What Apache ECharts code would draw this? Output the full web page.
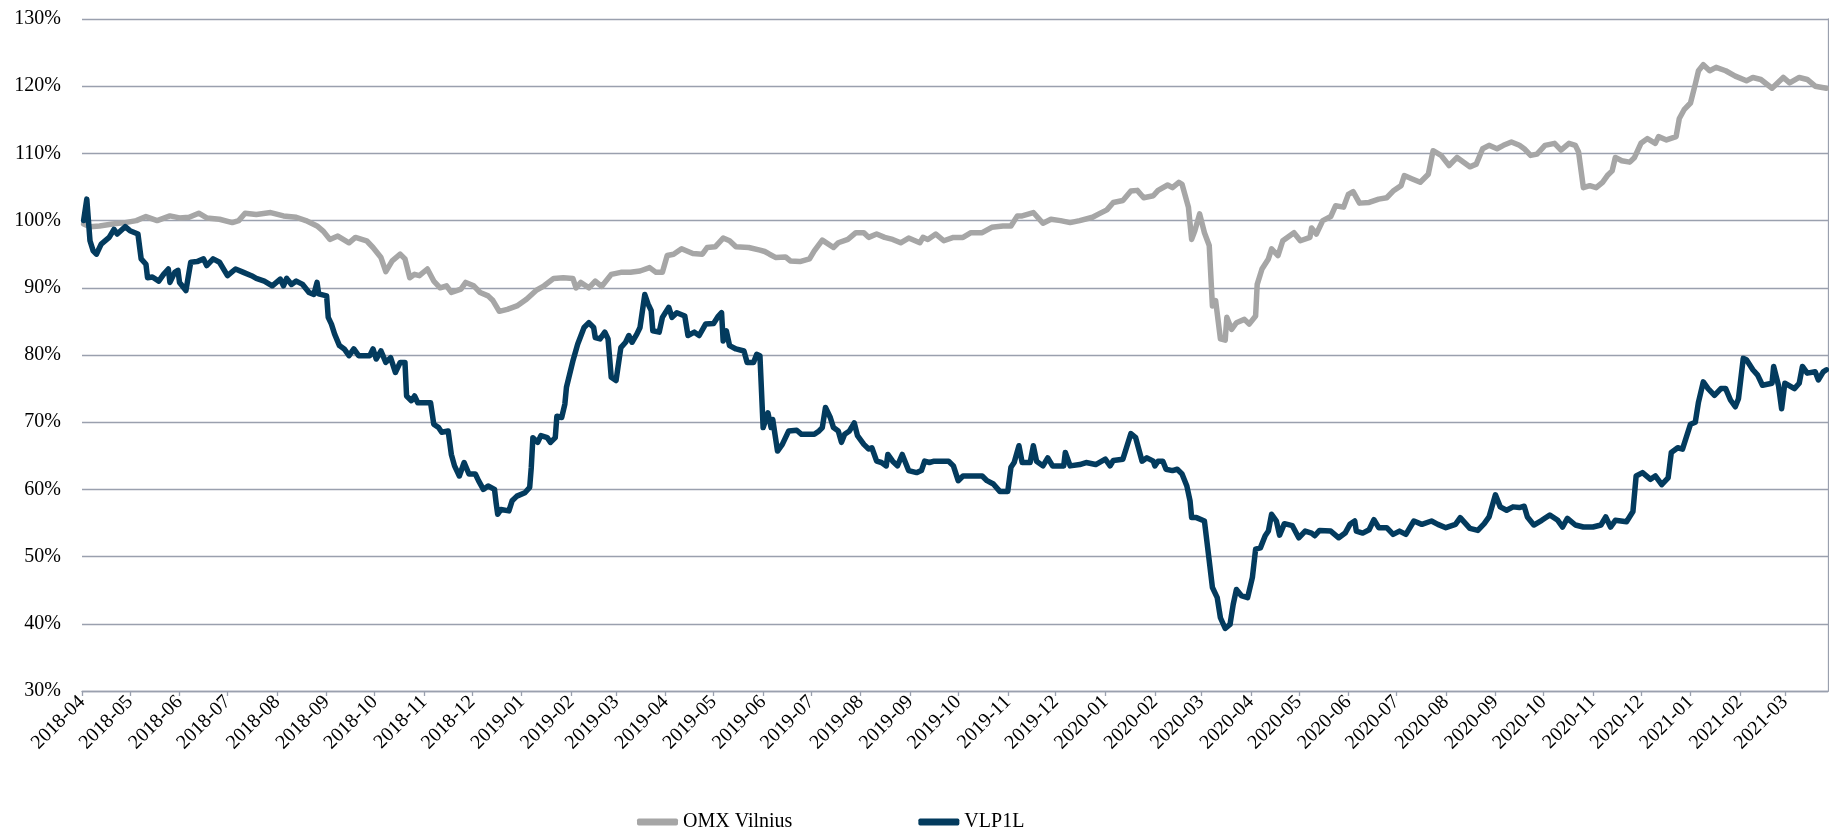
<!DOCTYPE html>
<html>
<head>
<meta charset="utf-8">
<script src="https://cdn.jsdelivr.net/npm/echarts@6/dist/echarts.min.js"></script>
<style>html,body{margin:0;padding:0;background:#fff}#c{width:1829px;height:830px}</style>
</head>
<body>
<div id="c"></div>
<script>
var seriesNames = ['OMX Vilnius', 'VLP1L'];
var yTicks = [30, 40, 50, 60, 70, 80, 90, 100, 110, 120, 130];

var omxDates = [
'2018-04-02','2018-04-06','2018-04-12','2018-04-20','2018-04-28','2018-05-05','2018-05-11','2018-05-18','2018-05-26','2018-06-01','2018-06-07','2018-06-13','2018-06-18','2018-06-26','2018-07-04','2018-07-08','2018-07-12','2018-07-19','2018-07-28','2018-08-05','2018-08-13','2018-08-19','2018-08-26','2018-08-30','2018-09-03','2018-09-08','2018-09-15','2018-09-19','2018-09-26','2018-09-30','2018-10-05','2018-10-08','2018-10-12','2018-10-17','2018-10-20','2018-10-23','2018-10-26','2018-10-29','2018-11-03','2018-11-07','2018-11-11','2018-11-15','2018-11-18','2018-11-24','2018-11-27','2018-12-02','2018-12-06','2018-12-11','2018-12-14','2018-12-18','2018-12-23','2018-12-29',
'2019-01-04','2019-01-10','2019-01-15','2019-01-21','2019-01-27','2019-02-02','2019-02-04','2019-02-07','2019-02-12','2019-02-16','2019-02-20','2019-02-26','2019-03-04','2019-03-10','2019-03-16','2019-03-22','2019-03-26','2019-03-30','2019-04-02','2019-04-06','2019-04-11','2019-04-18','2019-04-24','2019-04-27','2019-05-02','2019-05-07','2019-05-11','2019-05-15','2019-05-23','2019-05-30','2019-06-02','2019-06-05','2019-06-09','2019-06-15','2019-06-18','2019-06-24','2019-06-30','2019-07-03','2019-07-08','2019-07-15','2019-07-18','2019-07-24','2019-07-29','2019-08-03','2019-08-06','2019-08-11','2019-08-16','2019-08-21','2019-08-26','2019-08-31','2019-09-07','2019-09-09','2019-09-12','2019-09-17','2019-09-22','2019-09-28','2019-10-04','2019-10-09','2019-10-16','2019-10-22','2019-10-29','2019-11-03','2019-11-07','2019-11-10','2019-11-17','2019-11-23','2019-11-28','2019-12-04','2019-12-10','2019-12-16','2019-12-24','2019-12-28',
'2020-01-02','2020-01-06','2020-01-12','2020-01-17','2020-01-21','2020-01-25','2020-01-31','2020-02-03','2020-02-09','2020-02-12','2020-02-16','2020-02-18','2020-02-22','2020-02-24','2020-02-26','2020-02-29','2020-03-03','2020-03-06','2020-03-08','2020-03-10','2020-03-13','2020-03-16','2020-03-17','2020-03-20','2020-03-23','2020-03-28','2020-03-31','2020-04-04','2020-04-05','2020-04-08','2020-04-12','2020-04-14','2020-04-18','2020-04-21','2020-04-28','2020-05-02','2020-05-08','2020-05-09','2020-05-12','2020-05-16','2020-05-21','2020-05-24','2020-05-29','2020-06-01','2020-06-04','2020-06-08','2020-06-14','2020-06-20','2020-06-25','2020-06-29','2020-07-04','2020-07-06','2020-07-11','2020-07-16','2020-07-21','2020-07-24','2020-07-29','2020-08-03','2020-08-08','2020-08-16','2020-08-20','2020-08-24','2020-08-28','2020-09-02','2020-09-06','2020-09-11','2020-09-16','2020-09-19','2020-09-23','2020-09-27','2020-10-02','2020-10-08','2020-10-12','2020-10-17','2020-10-21','2020-10-23','2020-10-26','2020-10-30','2020-11-03','2020-11-07','2020-11-10','2020-11-13','2020-11-15','2020-11-19','2020-11-24','2020-11-27','2020-12-01','2020-12-05','2020-12-10','2020-12-12','2020-12-17','2020-12-23','2020-12-25','2020-12-28',
'2021-01-01','2021-01-04','2021-01-06','2021-01-09','2021-01-13','2021-01-17','2021-01-23','2021-01-29','2021-02-05','2021-02-09','2021-02-14','2021-02-21','2021-02-28','2021-03-04','2021-03-10','2021-03-15','2021-03-20','2021-03-27'
];
var omxValues = [
99.5,99.1,99.2,99.5,99.7,100,100.6,100,100.7,100.4,100.5,101.1,100.4,100.2,99.7,100,101.1,100.9,101.2,100.7,100.5,100,99.2,98.4,97.2,97.7,96.7,97.5,97,96,94.5,92.4,94,95,94.3,91.5,92,91.8,92.8,91,90,90.3,89.3,89.8,90.8,90.3,89.3,88.8,88.1,86.5,86.8,87.3,
88.3,89.6,90.3,91.4,91.5,91.4,90,90.8,90,91,90.2,92,92.3,92.3,92.5,93,92.3,92.3,94.8,95,95.8,95.1,95,96,96.1,97.4,97,96.1,96,95.6,95.4,95,94.5,94.6,94,93.9,94.3,95.5,97.1,96,96.7,97.2,98.2,98.2,97.5,98,97.5,97.2,96.7,97.4,96.7,97.5,97.2,98,97,97.5,97.5,98.2,98.2,99,99.2,99.2,100.7,100.7,101.2,99.6,100.2,100,99.7,100,100.5,101,
101.6,102.7,103,104.4,104.5,103.4,103.7,104.5,105.3,104.9,105.7,105.4,102,97.2,98.5,101,98.2,96.3,87.3,88.1,82.4,82.2,85.6,83.8,84.8,85.3,84.6,85.8,90.5,92.8,94.3,95.8,94.8,97,98.2,97,97.5,98.9,98,100,100.6,102.2,102,103.9,104.3,102.6,102.7,103.2,103.4,104.4,105.2,106.7,106.2,105.7,106.9,110.4,109.7,108.2,109.4,108,108.4,110.7,111.2,110.7,111.2,111.7,111.2,110.7,109.7,109.9,111.2,111.5,110.5,111.5,111.2,110.2,104.9,105.2,104.9,105.7,106.7,107.4,109.4,108.9,108.7,109.4,111.5,112.2,111.5,112.5,112,112.5,115.2,116.5,
117.5,120.3,122.3,123.2,122.3,122.8,122.3,121.5,120.8,121.3,121,119.7,121.3,120.5,121.3,121,120,119.7
];

var vlpDates = [
'2018-04-02','2018-04-04','2018-04-06','2018-04-08','2018-04-10','2018-04-13','2018-04-18','2018-04-21','2018-04-23','2018-04-28','2018-05-01','2018-05-06','2018-05-08','2018-05-11','2018-05-12','2018-05-15','2018-05-19','2018-05-22','2018-05-25','2018-05-26','2018-05-29','2018-05-31','2018-06-01','2018-06-05','2018-06-08','2018-06-12','2018-06-16','2018-06-18','2018-06-22','2018-06-26','2018-07-01','2018-07-06','2018-07-11','2018-07-16','2018-07-19','2018-07-24','2018-07-29','2018-08-03','2018-08-05','2018-08-07','2018-08-10','2018-08-13','2018-08-17','2018-08-21','2018-08-24','2018-08-26','2018-08-27','2018-09-01','2018-09-02','2018-09-04','2018-09-06','2018-09-09','2018-09-12','2018-09-15','2018-09-18','2018-09-21','2018-09-28','2018-09-30','2018-10-02','2018-10-05','2018-10-08','2018-10-11','2018-10-14','2018-10-17','2018-10-20','2018-10-21','2018-10-24','2018-10-26','2018-10-28','2018-11-05','2018-11-07','2018-11-10','2018-11-12','2018-11-16','2018-11-18','2018-11-20','2018-11-23','2018-11-26','2018-11-29','2018-12-03','2018-12-05','2018-12-08','2018-12-11','2018-12-15','2018-12-16','2018-12-17','2018-12-19','2018-12-24','2018-12-26','2018-12-29',
'2019-01-03','2019-01-06','2019-01-07','2019-01-08','2019-01-11','2019-01-13','2019-01-17','2019-01-19','2019-01-22','2019-01-23','2019-01-26','2019-01-28','2019-01-29','2019-02-02','2019-02-05','2019-02-09','2019-02-12','2019-02-15','2019-02-16','2019-02-19','2019-02-22','2019-02-24','2019-02-26','2019-03-01','2019-03-04','2019-03-07','2019-03-09','2019-03-11','2019-03-14','2019-03-16','2019-03-19','2019-03-21','2019-03-23','2019-03-24','2019-03-28','2019-03-30','2019-04-03','2019-04-05','2019-04-08','2019-04-13','2019-04-15','2019-04-19','2019-04-22','2019-04-26','2019-05-01','2019-05-04','2019-05-06','2019-05-07','2019-05-09','2019-05-11','2019-05-15','2019-05-20','2019-05-22','2019-05-26','2019-05-28','2019-05-30','2019-06-01','2019-06-04','2019-06-06','2019-06-07','2019-06-10','2019-06-13','2019-06-17','2019-06-22','2019-06-25','2019-07-03','2019-07-06','2019-07-08','2019-07-10','2019-07-13','2019-07-15','2019-07-18','2019-07-20','2019-07-22','2019-07-25','2019-07-28','2019-07-30','2019-08-03','2019-08-06','2019-08-08','2019-08-11','2019-08-14','2019-08-17','2019-08-18','2019-08-21','2019-08-24','2019-08-27','2019-08-31','2019-09-05','2019-09-08','2019-09-10','2019-09-13','2019-09-16','2019-09-25','2019-09-28','2019-10-01','2019-10-04','2019-10-16','2019-10-19','2019-10-23','2019-10-27','2019-11-01','2019-11-03','2019-11-05','2019-11-08','2019-11-10','2019-11-15','2019-11-17','2019-11-19','2019-11-23','2019-11-26','2019-11-29','2019-12-06','2019-12-07','2019-12-10','2019-12-16','2019-12-20','2019-12-26',
'2020-01-01','2020-01-04','2020-01-06','2020-01-12','2020-01-17','2020-01-20','2020-01-24','2020-01-27','2020-01-31','2020-02-01','2020-02-03','2020-02-06','2020-02-08','2020-02-12','2020-02-15','2020-02-18','2020-02-21','2020-02-23','2020-02-24','2020-02-27','2020-03-03','2020-03-06','2020-03-08','2020-03-11','2020-03-13','2020-03-16','2020-03-19','2020-03-21','2020-03-23','2020-03-26','2020-03-30','2020-04-02','2020-04-04','2020-04-07','2020-04-10','2020-04-12','2020-04-14','2020-04-17','2020-04-19','2020-04-22','2020-04-27','2020-05-01','2020-05-05','2020-05-09','2020-05-11','2020-05-14','2020-05-21','2020-05-26','2020-05-30','2020-06-02','2020-06-05','2020-06-06','2020-06-10','2020-06-14','2020-06-17','2020-06-20','2020-06-25','2020-06-29','2020-07-03','2020-07-07','2020-07-12','2020-07-17','2020-07-23','2020-07-27','2020-08-01','2020-08-07','2020-08-10','2020-08-16','2020-08-21','2020-08-25','2020-08-28','2020-09-01','2020-09-04','2020-09-08','2020-09-12','2020-09-16','2020-09-19','2020-09-21','2020-09-25','2020-09-30','2020-10-05','2020-10-10','2020-10-13','2020-10-16','2020-10-21','2020-10-26','2020-11-01','2020-11-06','2020-11-09','2020-11-12','2020-11-15','2020-11-22','2020-11-26','2020-11-28','2020-12-02','2020-12-07','2020-12-10','2020-12-14','2020-12-18','2020-12-20','2020-12-24','2020-12-27',
'2021-01-01','2021-01-04','2021-01-06','2021-01-09','2021-01-12','2021-01-16','2021-01-20','2021-01-23','2021-01-26','2021-01-29','2021-01-31','2021-02-03','2021-02-05','2021-02-09','2021-02-12','2021-02-15','2021-02-21','2021-02-22','2021-02-25','2021-02-27','2021-03-01','2021-03-07','2021-03-10','2021-03-12','2021-03-15','2021-03-20','2021-03-22','2021-03-25','2021-03-27'
];
var vlpValues = [
100,103.2,97,95.5,95,96.5,97.5,98.7,98,99.1,98.5,98,94.3,93.5,91.5,91.6,91,92,92.8,90.8,92.3,92.6,90.8,89.6,93.8,93.9,94.3,93.3,94.3,93.8,91.8,92.8,92.3,91.8,91.4,91,90.3,91.3,90.3,91.4,90.5,91,90.5,89.3,89,90.8,89.1,88.8,85.6,84.6,83.1,81.4,80.9,79.9,80.9,79.9,79.9,80.9,79.4,80.6,78.9,79.6,77.4,78.9,78.9,73.9,73.2,73.9,72.9,72.9,69.7,69.2,68.5,68.7,65.2,63.5,62,64,62.3,62.3,61.3,60,60.5,60,58,56.3,57,56.8,58.3,59,
59.5,60.3,63.3,67.7,67,68,67.7,67,67.7,70.9,70.7,72.7,75.2,79.1,81.6,84.1,84.8,84.1,82.6,82.4,83.4,82.4,76.7,76.2,81.1,81.9,82.9,81.9,83.1,84.1,89,87.6,86.6,83.6,83.4,85.6,87.1,85.6,86.3,85.8,82.9,83.4,82.9,84.6,84.7,85.8,86.3,82.1,83.6,81.4,80.9,80.6,78.9,78.9,80.1,79.9,69.2,71.4,69.2,70.4,65.7,66.7,68.7,68.8,68.2,68.2,68.7,69.2,72.2,70.7,69.2,68.7,67,68.2,68.7,69.9,68,66.7,66,66.2,64.2,64,63.5,65.2,64.2,63.5,65.2,62.8,62.5,62.8,64.2,64,64.2,64.2,63.5,61.3,62,62,61.3,60.8,59.7,59.7,63.3,64,66.5,64,64,66.5,64.2,63.5,64.7,63.5,63.5,65.5,63.5,63.7,64,63.7,
64.5,63.5,64.3,64.5,68.3,67.7,64.2,64.7,64.2,63.5,64.2,64.2,63,62.8,63,62.3,60.5,58.3,55.8,55.8,55.3,49.4,45.4,43.9,40.9,39.3,39.9,42.9,45.1,44.2,43.9,46.9,51.1,51.3,53.1,53.8,56.3,55.3,53.2,54.9,54.6,52.8,53.8,53.5,53.1,53.9,53.8,52.8,53.5,54.8,55.3,53.8,53.5,54,55.5,54.3,54.3,53.3,53.8,53.3,55.3,54.8,55.3,54.8,54.3,54.8,55.8,54.2,53.9,54.9,55.9,59.2,57.4,56.9,57.4,57.3,57.5,55.9,54.7,55.4,56.2,55.4,54.4,55.7,54.7,54.4,54.4,54.7,55.9,54.4,55.4,55.2,56.7,62,62.5,61.5,62,60.7,61.7,65.5,66.2,66,
69.7,70,73,76,75,74,75,75,73.3,72.3,73.5,79.5,79.3,77.8,77,75.5,75.8,78.3,75.5,72,75.8,75,75.8,78.3,77.3,77.5,76.3,77.5,77.8
];

function pairs(d, v) { return d.map(function (x, i) { return [x, v[i]]; }); }

var gridColor = '#9aa0ae';
var font = '"Liberation Serif", "Times New Roman", serif';
var chart = echarts.init(document.getElementById('c'));
chart.setOption({
  animation: false,
  grid: { left: 82, right: 1, top: 19, bottom: 139, containLabel: false },
  legend: {
    data: [{ name: seriesNames[0], icon: 'roundRect' }, { name: seriesNames[1], icon: 'roundRect' }],
    left: 632, top: 807, itemWidth: 41, itemHeight: 7, itemGap: 126,
    textStyle: { fontFamily: font, fontSize: 20, color: '#000' }
  },
  xAxis: {
    type: 'time',
    min: '2018-04-01', max: '2021-03-28',
    splitNumber: 36,
    minInterval: 28 * 86400000,
    maxInterval: 31 * 86400000,
    axisLine: { show: true, lineStyle: { color: gridColor, width: 1.3 } },
    axisTick: { show: true, length: 5, lineStyle: { color: gridColor, width: 1.3 } },
    splitLine: { show: false },
    axisLabel: {
      rotate: 45, margin: 8, fontFamily: font, fontSize: 20, color: '#000',
      formatter: '{yyyy}-{MM}', showMinLabel: true, showMaxLabel: false, hideOverlap: false
    }
  },
  yAxis: [{
    type: 'value', min: yTicks[0], max: yTicks[yTicks.length - 1], interval: 10,
    axisLine: { show: false }, axisTick: { show: false },
    splitLine: { show: true, lineStyle: { color: gridColor, width: 1.3 } },
    axisLabel: { margin: 21, fontFamily: font, fontSize: 20, color: '#000', formatter: '{value}%' }
  }, {
    type: 'value', position: 'right', min: yTicks[0], max: yTicks[yTicks.length - 1], interval: 10,
    axisLine: { show: true, lineStyle: { color: gridColor, width: 1.3 } },
    axisTick: { show: false }, axisLabel: { show: false }, splitLine: { show: false }
  }],
  series: [{
    name: seriesNames[0], type: 'line', showSymbol: false, symbol: 'none',
    data: pairs(omxDates, omxValues),
    itemStyle: { color: '#a6a6a6' },
    lineStyle: { color: '#a6a6a6', width: 5.5, cap: 'round', join: 'round' }
  }, {
    name: seriesNames[1], type: 'line', showSymbol: false, symbol: 'none',
    data: pairs(vlpDates, vlpValues),
    itemStyle: { color: '#033b5e' },
    lineStyle: { color: '#033b5e', width: 5.5, cap: 'round', join: 'round' }
  }]
});
</script>
</body>
</html>
